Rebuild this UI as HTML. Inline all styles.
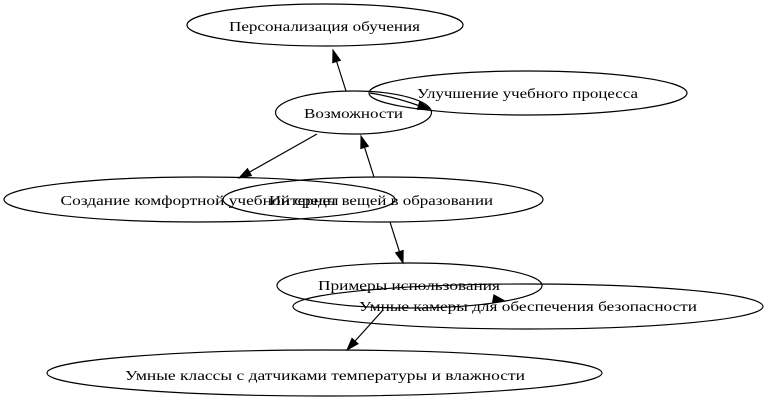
<!DOCTYPE html>
<html>
<head>
<meta charset="utf-8">
<style>
  html, body { margin: 0; padding: 0; background: #ffffff; }
  svg { display: block; }
  text { font-family: "Liberation Serif", "Noto Serif CJK SC", serif; font-size: 14px; fill: #000; }
</style>
</head>
<body>
<svg width="768" height="400" viewBox="0 0 768 400" xmlns="http://www.w3.org/2000/svg">
  <rect width="768" height="400" fill="#ffffff"/>
  <g fill="none" stroke="#000" stroke-width="1.2">
    <ellipse cx="325" cy="25" rx="138" ry="21"/>
    <ellipse cx="528" cy="93" rx="159" ry="22"/>
    <ellipse cx="353.5" cy="112.5" rx="78" ry="21.5"/>
    <ellipse cx="199.5" cy="199.5" rx="195.5" ry="22.5"/>
    <ellipse cx="383" cy="199.5" rx="160" ry="22.5"/>
    <ellipse cx="409.5" cy="285.5" rx="132.5" ry="22.5"/>
    <ellipse cx="528" cy="306.5" rx="235" ry="22.5"/>
    <ellipse cx="324.5" cy="373" rx="277.5" ry="23"/>
  </g>
  <g fill="none" stroke="#000" stroke-width="1.2">
    <line x1="346" y1="91" x2="336.6" y2="61.5"/>
    <path d="M370,93 Q395,97 418.5,105.5"/>
    <line x1="317" y1="134" x2="249.5" y2="172.1"/>
    <line x1="374" y1="177" x2="364.6" y2="147.4"/>
    <line x1="390" y1="222" x2="399.4" y2="251.6"/>
    <line x1="383" y1="310" x2="355" y2="341.1"/>
  </g>
  <g fill="#000" stroke="#000" stroke-width="1">
    <polygon points="333,50 340.4,60.3 332.7,62.7"/>
    <polygon points="430,109 417.4,109.3 419.7,101.7"/>
    <polygon points="239,178 251.4,175.6 247.5,168.6"/>
    <polygon points="361,136 368.4,146.2 360.8,148.6"/>
    <polygon points="403,263 395.6,252.8 403.2,250.4"/>
    <polygon points="505,301 492.5,302.7 493.9,294.9"/>
    <polygon points="347,350 358,343.8 352,338.4"/>
  </g>
  <g text-anchor="middle">
    <text x="324.5" y="31" textLength="191" lengthAdjust="spacingAndGlyphs">Персонализация обучения</text>
    <text x="527.5" y="98" textLength="221" lengthAdjust="spacingAndGlyphs">Улучшение учебного процесса</text>
    <text x="353.5" y="118" textLength="99" lengthAdjust="spacingAndGlyphs">Возможности</text>
    <text x="199.5" y="205" textLength="278" lengthAdjust="spacingAndGlyphs">Создание комфортной учебной среды</text>
    <text x="381" y="205" textLength="224" lengthAdjust="spacingAndGlyphs">Интернет вещей в образовании</text>
    <text x="409" y="290" textLength="182" lengthAdjust="spacingAndGlyphs">Примеры использования</text>
    <text x="528" y="311" textLength="338" lengthAdjust="spacingAndGlyphs">Умные камеры для обеспечения безопасности</text>
    <text x="325" y="380" textLength="400" lengthAdjust="spacingAndGlyphs">Умные классы с датчиками температуры и влажности</text>
  </g>
</svg>
</body>
</html>
